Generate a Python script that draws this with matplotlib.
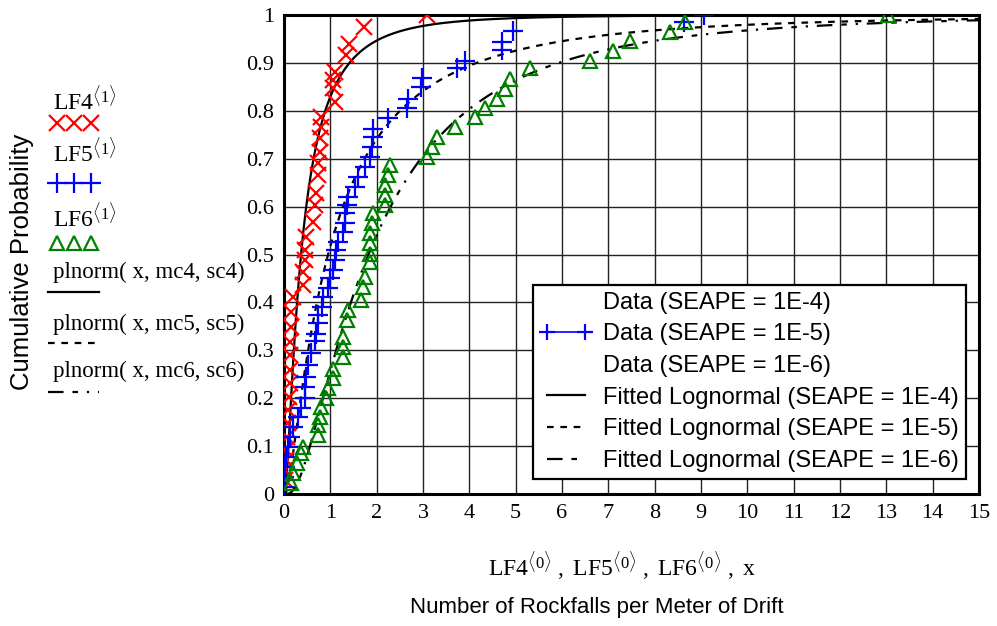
import math
import numpy as np
import matplotlib
matplotlib.use("Agg")
import matplotlib.pyplot as plt
from matplotlib.lines import Line2D

plt.rcParams['mathtext.fontset'] = 'custom'
plt.rcParams['mathtext.rm'] = 'Liberation Serif'
plt.rcParams['mathtext.it'] = 'Liberation Serif:italic'

# ---------------- data ----------------
lf4_p = [0.029, 0.05, 0.071, 0.092, 0.12, 0.148, 0.175, 0.203, 0.231, 0.259, 0.29, 0.318,
         0.349, 0.38, 0.411, 0.436, 0.464, 0.489, 0.509, 0.536, 0.568, 0.603, 0.628, 0.666,
         0.69, 0.714, 0.743, 0.766, 0.787, 0.818, 0.847, 0.864, 0.88, 0.917, 0.94, 0.975, 1.0]
lf4_x = [0.02, 0.03, 0.05, 0.05, 0.07, 0.09, 0.09, 0.10, 0.12, 0.12, 0.14, 0.14,
         0.16, 0.15, 0.19, 0.41, 0.41, 0.45, 0.45, 0.47, 0.63, 0.67, 0.69, 0.73,
         0.73, 0.78, 0.78, 0.80, 0.80, 1.10, 1.06, 1.06, 1.10, 1.34, 1.40, 1.73, 3.09]

lf5_p = [0.015, 0.036, 0.057, 0.078, 0.099, 0.12, 0.14, 0.161, 0.179, 0.2, 0.224, 0.245,
         0.269, 0.294, 0.32, 0.335, 0.357, 0.374, 0.39, 0.412, 0.43, 0.45, 0.468, 0.489,
         0.509, 0.527, 0.548, 0.565, 0.586, 0.603, 0.62, 0.64, 0.662, 0.683, 0.704, 0.725,
         0.746, 0.763, 0.784, 0.805, 0.824, 0.85, 0.868, 0.889, 0.903, 0.927, 0.944, 0.967,
         0.986, 1.0]
lf5_x = [0.01, 0.01, 0.02, 0.05, 0.09, 0.12, 0.19, 0.30, 0.37, 0.45, 0.45, 0.48,
         0.52, 0.59, 0.66, 0.70, 0.73, 0.73, 0.81, 0.84, 0.95, 0.99, 1.06, 1.09,
         1.13, 1.17, 1.28, 1.31, 1.31, 1.35, 1.38, 1.53, 1.60, 1.75, 1.86, 1.89,
         1.93, 1.93, 2.25, 2.65, 2.68, 2.95, 2.97, 3.73, 3.91, 4.70, 4.70, 4.94,
         8.64, 9.07]

lf6_p = [0.022, 0.043, 0.064, 0.085, 0.099, 0.123, 0.144, 0.161, 0.182, 0.2, 0.221, 0.242,
         0.262, 0.287, 0.307, 0.328, 0.363, 0.384, 0.405, 0.433, 0.454, 0.485, 0.502, 0.523,
         0.544, 0.565, 0.586, 0.603, 0.624, 0.645, 0.666, 0.687, 0.704, 0.725, 0.746, 0.767,
         0.788, 0.805, 0.824, 0.845, 0.866, 0.889, 0.904, 0.925, 0.946, 0.965, 0.986, 1.0]
lf6_x = [0.16, 0.19, 0.27, 0.37, 0.41, 0.73, 0.73, 0.77, 0.80, 0.91, 0.95, 1.06,
         1.06, 1.27, 1.27, 1.27, 1.35, 1.38, 1.67, 1.70, 1.74, 1.85, 1.86, 1.86,
         1.86, 1.89, 1.93, 2.18, 2.18, 2.18, 2.25, 2.29, 3.08, 3.19, 3.30, 3.69,
         4.12, 4.34, 4.59, 4.77, 4.88, 5.31, 6.60, 7.09, 7.47, 8.33, 8.66, 13.04]

# fitted lognormal parameters (plnorm(x, mc, sc))
mc4, sc4 = -1.0, 1.05
mc5, sc5 = -0.05, 1.15
mc6, sc6 = 0.60, 0.92

x_ticks = list(range(0, 16))
y_ticks = [0, 0.1, 0.2, 0.3, 0.4, 0.5, 0.6, 0.7, 0.8, 0.9, 1.0]
y_ticklabels = ['0', '0.1', '0.2', '0.3', '0.4', '0.5', '0.6', '0.7', '0.8', '0.9', '1']

legend_labels = ['Data (SEAPE = 1E-4)', 'Data (SEAPE = 1E-5)', 'Data (SEAPE = 1E-6)',
                 'Fitted Lognormal (SEAPE = 1E-4)', 'Fitted Lognormal (SEAPE = 1E-5)',
                 'Fitted Lognormal (SEAPE = 1E-6)']


def plnorm(x, m, s):
    return np.array([0.5 * (1 + math.erf((math.log(v) - m) / (s * math.sqrt(2)))) for v in x])


W, H = 997, 626
fig = plt.figure(figsize=(W / 100, H / 100), dpi=100)
ax = fig.add_axes([284 / W, 1 - 494 / H, 695 / W, 479 / H])

RED, BLUE, GREEN = '#ff0000', '#0000ff', '#008000'
dash5 = (0, (3, 3))
dash6 = (0, (7, 4, 2.5, 4, 1, 4))

xs = np.linspace(0.0005, 15, 3000)
ax.plot(xs, plnorm(xs, mc4, sc4), color='black', lw=1.6, zorder=3)
ax.plot(xs, plnorm(xs, mc5, sc5), color='black', lw=1.6, ls=dash5, zorder=3)
ax.plot(xs, plnorm(xs, mc6, sc6), color='black', lw=1.6, ls=dash6, zorder=3)

ax.plot(lf4_x, lf4_p, ls='none', marker='x', ms=12, mew=1.6, color=RED, zorder=4)
ax.plot(lf5_x, lf5_p, ls='none', marker='+', ms=14, mew=1.6, color=BLUE, zorder=4)
ax.plot(lf6_x, lf6_p, ls='none', marker='^', ms=10, mew=1.6, mfc='none', mec=GREEN, zorder=4)

ax.set_xlim(0, 15)
ax.set_ylim(0, 1)
ax.set_xticks(x_ticks)
ax.set_yticks(y_ticks)
ax.set_yticklabels(y_ticklabels)
ax.grid(True, color='#222222', lw=1.0)
ax.set_axisbelow(True)
ax.tick_params(length=0, pad=7)
for lab in ax.get_xticklabels() + ax.get_yticklabels():
    lab.set_fontfamily('Liberation Serif')
    lab.set_fontsize(16)
for sp in ax.spines.values():
    sp.set_linewidth(2.2)
    sp.set_color('black')

handles = [
    Line2D([], [], ls='none', marker=None),
    Line2D([], [], color=BLUE, lw=1.2, marker='+', ms=11, mew=1.6),
    Line2D([], [], ls='none', marker=None),
    Line2D([], [], color='black', lw=1.6),
    Line2D([], [], color='black', lw=1.6, ls=dash5),
    Line2D([], [], color='black', lw=1.6, ls=dash6),
]
leg = ax.legend(handles, legend_labels, loc='lower right', bbox_to_anchor=(0.981, 0.031),
                borderaxespad=0, frameon=True, fancybox=False, edgecolor='black',
                framealpha=1, prop={'family': 'Liberation Sans', 'size': 17},
                handlelength=2.2, handletextpad=0.45, labelspacing=0.41, numpoints=2,
                borderpad=0.3)
leg.get_frame().set_linewidth(1.6)
leg.set_zorder(10)


def fx(px):
    return px / W


def fy(py):
    return 1 - py / H


# axis labels
fig.text(fx(22), fy(262), 'Cumulative Probability', rotation=90, ha='center', va='center',
         family='Liberation Sans', fontsize=18.5)
fig.text(fx(597), fy(607), 'Number of Rockfalls per Meter of Drift', ha='center', va='center',
         family='Liberation Sans', fontsize=16)
fig.text(fx(622), fy(577),
         r'$\mathrm{LF4}^{\langle 0\rangle}\mathrm{\ ,\ LF5}^{\langle 0\rangle}\mathrm{\ ,\ LF6}^{\langle 0\rangle}\mathrm{\ ,\ x}$',
         ha='center', va='baseline', fontsize=17)

# left-hand Mathcad style legend
fig.text(fx(53), fy(111), r'$\mathrm{LF4}^{\langle 1\rangle}$', ha='left', va='baseline', fontsize=17)
fig.text(fx(53), fy(163), r'$\mathrm{LF5}^{\langle 1\rangle}$', ha='left', va='baseline', fontsize=17)
fig.text(fx(53), fy(228), r'$\mathrm{LF6}^{\langle 1\rangle}$', ha='left', va='baseline', fontsize=17)
for py, txt in [(278, 'plnorm( x, mc4, sc4)'), (330, 'plnorm( x, mc5, sc5)'), (377, 'plnorm( x, mc6, sc6)')]:
    fig.text(fx(53), fy(py), txt, ha='left', va='baseline', family='Liberation Serif', fontsize=16.5)

mk_x = [fx(57), fx(74), fx(91)]
fig.add_artist(Line2D(mk_x, [fy(123)] * 3, ls='none', marker='x', ms=12, mew=1.6, color=RED,
                      transform=fig.transFigure))
fig.add_artist(Line2D(mk_x, [fy(183)] * 3, ls='none', marker='+', ms=14, mew=1.6, color=BLUE,
                      transform=fig.transFigure))
fig.add_artist(Line2D(mk_x, [fy(243)] * 3, ls='none', marker='^', ms=10, mew=1.6, mfc='none',
                      mec=GREEN, transform=fig.transFigure))
fig.add_artist(Line2D([fx(48), fx(99)], [fy(292)] * 2, color='black', lw=1.6,
                      transform=fig.transFigure))
fig.add_artist(Line2D([fx(48), fx(99)], [fy(343)] * 2, color='black', lw=1.6, ls=dash5,
                      transform=fig.transFigure))
fig.add_artist(Line2D([fx(48), fx(99)], [fy(392)] * 2, color='black', lw=1.6, ls=dash6,
                      transform=fig.transFigure))

fig.savefig('out.png', dpi=100)
